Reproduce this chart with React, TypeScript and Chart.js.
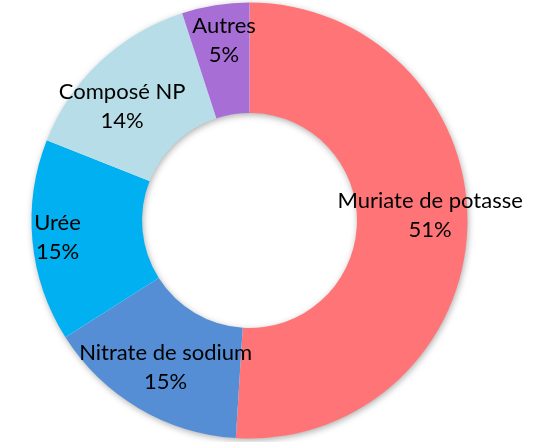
import React, { useEffect, useRef } from "react";
import { Chart, registerables } from "chart.js";

Chart.register(...registerables);

const categories = ["Muriate de potasse", "Nitrate de sodium", "Urée", "Composé NP", "Autres"];
const values = [51, 15, 15, 14, 5];
const valueLabels = ["51%", "15%", "15%", "14%", "5%"];
const colors = ["#FF7476", "#558ED5", "#00B0F0", "#B7DEE8", "#A76ED5"];
// label nudges relative to arc mid-point (px)
const labelDx = [18, -1, -30, -16, 0];
const labelDy = [-10, 7, 2, 5, -19];

const FONT_FAMILY = "Lato, 'Open Sans', sans-serif";
const FONT_SIZE = 22;
const LINE_GAP = 29;

const shadowPlugin = {
  id: "ringShadow",
  beforeDatasetsDraw(chart: any) {
    const meta = chart.getDatasetMeta(0);
    const arc = meta.data[0];
    if (!arc) return;
    const { x, y, outerRadius, innerRadius } = arc.getProps(["x", "y", "outerRadius", "innerRadius"], true);
    const ctx = chart.ctx;
    ctx.save();
    ctx.shadowColor = "rgba(0,0,0,0.35)";
    ctx.shadowBlur = 7;
    ctx.shadowOffsetX = 1;
    ctx.shadowOffsetY = 2;
    ctx.fillStyle = "#ffffff";
    ctx.beginPath();
    ctx.arc(x, y, outerRadius - 0.5, 0, Math.PI * 2, false);
    ctx.arc(x, y, innerRadius + 0.5, 0, Math.PI * 2, true);
    ctx.closePath();
    ctx.fill();
    ctx.restore();
  },
};

const labelPlugin = {
  id: "sliceLabels",
  afterDatasetsDraw(chart: any) {
    const meta = chart.getDatasetMeta(0);
    const ctx = chart.ctx;
    ctx.save();
    ctx.fillStyle = "#000000";
    ctx.textAlign = "center";
    ctx.textBaseline = "middle";
    ctx.font = `${FONT_SIZE}px ${FONT_FAMILY}`;
    meta.data.forEach((arc: any, i: number) => {
      const p = arc.tooltipPosition(true);
      const cx = p.x + labelDx[i];
      const cy = p.y + labelDy[i];
      ctx.fillText(categories[i], cx, cy - LINE_GAP / 2);
      ctx.fillText(valueLabels[i], cx, cy + LINE_GAP / 2);
    });
    ctx.restore();
  },
};

export default function App() {
  const ref = useRef<HTMLCanvasElement | null>(null);
  useEffect(() => {
    if (!ref.current) return;
    const chart = new Chart(ref.current, {
      type: "doughnut",
      data: {
        labels: categories,
        datasets: [
          {
            data: values,
            backgroundColor: colors,
            borderWidth: 0,
            hoverOffset: 0,
          },
        ],
      },
      options: {
        animation: false,
        responsive: false,
        cutout: "49.3%",
        layout: { padding: { left: 0, right: 35, top: 2.5, bottom: 3.5 } },
        plugins: {
          legend: { display: false },
          tooltip: { enabled: false },
        },
      },
      plugins: [shadowPlugin, labelPlugin],
    });
    return () => chart.destroy();
  }, []);
  return (
    <div style={{ position: "fixed", left: 0, top: 0, width: 534, height: 442, background: "#fff" }}>
      <canvas ref={ref} width={534} height={442} style={{ width: 534, height: 442 }} />
    </div>
  );
}
